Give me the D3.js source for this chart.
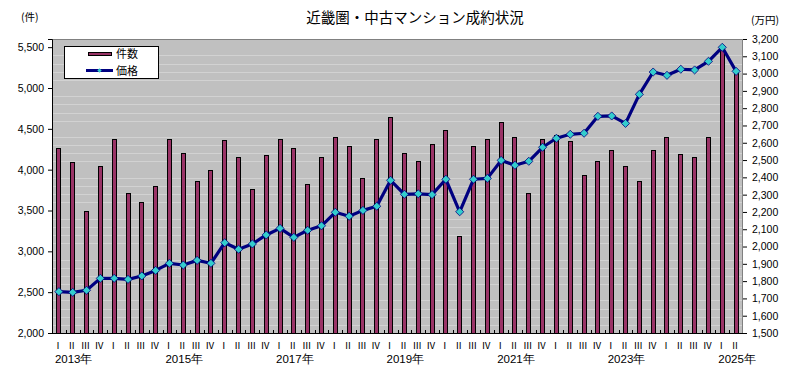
<!DOCTYPE html>
<html>
<head>
<meta charset="utf-8">
<script src="https://cdn.jsdelivr.net/npm/d3@7"></script>
<style>
  body { margin: 0; background: #fff; }
  svg text { font-family: "Noto Sans CJK JP", "Liberation Sans", sans-serif; fill: #000; }
</style>
</head>
<body>
<div class="container"></div>
<script>
// quarters 2013 I .. 2025 II
var quarterLabels = ["Ⅰ", "Ⅱ", "Ⅲ", "Ⅳ"];
var startYear = 2013;
var yearLabels = ["2013年", "2015年", "2017年", "2019年", "2021年", "2023年", "2025年"];

// 件数 (left axis)
var counts = [4270, 4090, 3490, 4040, 4370, 3720, 3600, 3800,
              4380, 4200, 3860, 4000, 4360, 4150, 3760, 4180,
              4370, 4270, 3830, 4160, 4400, 4290, 3900, 4380,
              4650, 4200, 4110, 4320, 4490, 3190, 4290, 4370,
              4580, 4400, 3720, 4380, 4430, 4350, 3930, 4100,
              4240, 4050, 3860, 4240, 4400, 4190, 4150, 4400,
              5480, 5190];

// 価格 万円 (right axis)
var prices = [1739, 1735, 1747, 1816, 1816, 1810, 1830, 1862,
              1903, 1893, 1920, 1903, 2022, 1984, 2015, 2067,
              2105, 2053, 2094, 2120, 2198, 2175, 2209, 2233,
              2383, 2302, 2305, 2300, 2389, 2201, 2389, 2394,
              2498, 2470, 2493, 2574, 2626, 2649, 2655, 2753,
              2755, 2712, 2880, 3009, 2990, 3025, 3021, 3071,
              3152, 3013];

var leftTicks = [2000, 2500, 3000, 3500, 4000, 4500, 5000, 5500];
var rightTicks = d3.range(1500, 3201, 100);

var data = counts.map(function(c, i) {
  return {
    i: i,
    q: quarterLabels[i % 4],
    year: startYear + Math.floor(i / 4),
    count: c,
    price: prices[i]
  };
});

var margin = {top: 39, right: 54, bottom: 42, left: 52},
    width = 797 - margin.left - margin.right,
    height = 375 - margin.top - margin.bottom;

var root = d3.select(".container")
  .append("svg")
    .attr("width", 797)
    .attr("height", 375);

var svg = root.append("g")
    .attr("transform", "translate(" + margin.left + "," + margin.top + ")");

var x = d3.scaleBand()
  .domain(data.map(function(d) { return d.i; }))
  .range([0, width])
  .padding(0);

var y = d3.scaleLinear().domain([2000, 5600]).range([height, 0]);
var y2 = d3.scaleLinear().domain([1500, 3200]).range([height, 0]);

// plot background
svg.append("rect")
  .attr("width", width)
  .attr("height", height)
  .attr("fill", "#c0c0c0");

// light gridlines every 100
svg.append("g")
  .selectAll("line")
  .data(d3.range(2100, 5600, 100).filter(function(v) { return v % 500 !== 0; }))
  .enter()
  .append("line")
    .attr("x1", 0)
    .attr("x2", width)
    .attr("y1", function(d) { return Math.round(y(d)) + 0.5; })
    .attr("y2", function(d) { return Math.round(y(d)) + 0.5; })
    .attr("stroke", "#d2d2d2")
    .attr("stroke-width", 1);

// top / right frame
svg.append("path")
  .attr("d", "M0.5,0.5H" + (width - 0.5) + "V" + height)
  .attr("fill", "none")
  .attr("stroke", "#808080");

// bars
var barW = 5;
svg.append("g")
  .selectAll("rect")
  .data(data)
  .enter()
  .append("rect")
    .attr("x", function(d) { return Math.round(x(d.i) + x.bandwidth() / 2 - barW / 2) + 0.5; })
    .attr("y", function(d) { return Math.round(y(d.count)) + 0.5; })
    .attr("width", barW - 1)
    .attr("height", function(d) { return height - Math.round(y(d.count)); })
    .attr("fill", "#993366")
    .attr("stroke", "#000")
    .attr("stroke-width", 1);

// price line
var line = d3.line()
  .x(function(d) { return x(d.i) + x.bandwidth() / 2; })
  .y(function(d) { return y2(d.price); });

svg.append("path")
  .datum(data)
  .attr("d", line)
  .attr("fill", "none")
  .attr("stroke", "#000080")
  .attr("stroke-width", 3.2)
  .attr("stroke-linejoin", "round");

var diamond = d3.symbol().type(d3.symbolDiamond2).size(42);
svg.append("g")
  .selectAll("path")
  .data(data)
  .enter()
  .append("path")
    .attr("d", diamond)
    .attr("transform", function(d) {
      return "translate(" + (x(d.i) + x.bandwidth() / 2) + "," + y2(d.price) + ")";
    })
    .attr("fill", "#33cccc")
    .attr("stroke", "#000080")
    .attr("stroke-width", 0.8);

// left axis
var yAxis = d3.axisLeft(y)
  .tickValues(leftTicks)
  .tickFormat(d3.format(","))
  .tickSizeOuter(0)
  .tickSize(4)
  .tickPadding(4);
var gl = svg.append("g").call(yAxis);
gl.select(".domain").attr("stroke", "#000");
gl.selectAll("text").style("font-family", "Liberation Sans, Arial, sans-serif").style("font-size", "10.5px");

// right axis
var yAxis2 = d3.axisRight(y2)
  .tickValues(rightTicks)
  .tickFormat(d3.format(","))
  .tickSizeOuter(0)
  .tickSize(4)
  .tickPadding(5);
var gr = svg.append("g")
  .attr("transform", "translate(" + width + ",0)")
  .call(yAxis2);
gr.select(".domain").remove();
gr.selectAll("text").style("font-family", "Liberation Sans, Arial, sans-serif").style("font-size", "10.5px");

// bottom axis line + inside ticks at category boundaries
svg.append("line")
  .attr("x1", 0).attr("x2", width)
  .attr("y1", height + 0.5).attr("y2", height + 0.5)
  .attr("stroke", "#000");

svg.append("g")
  .selectAll("line")
  .data(data.slice(1))
  .enter()
  .append("line")
    .attr("x1", function(d) { return Math.round(x(d.i)) + 0.5; })
    .attr("x2", function(d) { return Math.round(x(d.i)) + 0.5; })
    .attr("y1", height)
    .attr("y2", height - 3)
    .attr("stroke", "#000");

// quarter labels
svg.append("g")
  .selectAll("text")
  .data(data)
  .enter()
  .append("text")
    .attr("x", function(d) { return x(d.i) + x.bandwidth() / 2 - 1; })
    .attr("y", height + 16)
    .attr("text-anchor", "middle")
    .style("font-family", "Noto Sans CJK JP, sans-serif")
    .style("font-size", "9.5px")
    .text(function(d) { return d.q; });

// year labels (every 2 years)
svg.append("g")
  .selectAll("text")
  .data(data.filter(function(d) { return d.i % 8 === 0; }))
  .enter()
  .append("text")
    .attr("x", function(d) { return x(d.i) + x.bandwidth() / 2 - 4; })
    .attr("y", height + 30)
    .style("font-family", "Liberation Sans, sans-serif")
    .style("font-size", "11.5px")
    .text(function(d, i) { return yearLabels[i]; });

// title and units
root.append("text")
  .attr("x", 415)
  .attr("y", 23)
  .attr("text-anchor", "middle")
  .style("font-size", "14.5px")
  .text("近畿圏・中古マンション成約状況");

root.append("text")
  .attr("x", 21)
  .attr("y", 21)
  .style("font-size", "10.5px")
  .text("(件)");

root.append("text")
  .attr("x", 751)
  .attr("y", 24)
  .style("font-size", "10.5px")
  .text("(万円)");

// legend
var lg = root.append("g");
lg.append("rect")
  .attr("x", 64.5).attr("y", 46.5)
  .attr("width", 94).attr("height", 32)
  .attr("fill", "#fff")
  .attr("stroke", "#000");
lg.append("rect")
  .attr("x", 88.5).attr("y", 52.5)
  .attr("width", 23).attr("height", 3)
  .attr("fill", "#993366")
  .attr("stroke", "#000");
lg.append("text")
  .attr("x", 116).attr("y", 58)
  .style("font-size", "11px")
  .text("件数");
lg.append("line")
  .attr("x1", 86).attr("x2", 113)
  .attr("y1", 70.5).attr("y2", 70.5)
  .attr("stroke", "#000080")
  .attr("stroke-width", 3);
lg.append("path")
  .attr("d", d3.symbol().type(d3.symbolDiamond2).size(12))
  .attr("transform", "translate(99.5,70.5)")
  .attr("fill", "#33cccc");
lg.append("text")
  .attr("x", 116).attr("y", 75)
  .style("font-size", "11px")
  .text("価格");
</script>
</body>
</html>
